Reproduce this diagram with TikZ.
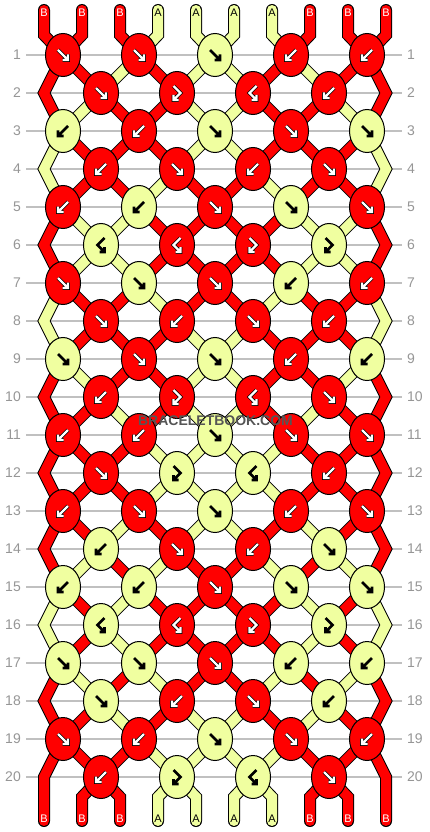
\documentclass[tikz,border=0pt]{standalone}
\usepackage{fontspec}
\setmainfont{Liberation Sans}
\usetikzlibrary{shapes.geometric}

\definecolor{colB}{RGB}{255,0,0}
\definecolor{colA}{RGB}{240,255,160}
\definecolor{labB}{RGB}{255,255,255}
\definecolor{labA}{RGB}{0,0,0}
\definecolor{rowgray}{RGB}{192,192,192}
\definecolor{labgray}{RGB}{150,150,150}
\definecolor{markgray}{RGB}{85,85,85}

\tikzset{
  knot/.style={ellipse, draw=black, line width=1pt, fill=col#1,
    minimum width=35pt, minimum height=43pt, inner sep=0pt},
  strout/.style={draw=black, line width=12pt, line cap=round, line join=miter},
  strin/.style={draw=col#1, line width=10pt, line cap=round, line join=miter},
  arrB/.style={draw=black, double=white, double distance=2.2pt, line width=0.7pt},
  arrA/.style={draw=black, line width=2.6pt},
  rowline/.style={draw=rowgray, line width=1.2pt, shorten <=5pt, shorten >=5pt},
  rowlab/.style={text=labgray, font=\fontsize{14}{14}\selectfont, inner sep=0pt},
  endlab/.style={text=lab#1, font=\fontsize{11}{11}\selectfont, inner sep=0pt},
  wmark/.style={font=\fontsize{14}{14}\selectfont\bfseries, text=markgray, inner sep=0pt},
  pics/fw/.style={code={\draw[arr#1] (-5,-5) -- (5,5) (5,-0.5) -- (5,5) -- (-0.5,5);}},
  pics/bw/.style={code={\draw[arr#1] (5,-5) -- (-5,5) (-5,-0.5) -- (-5,5) -- (0.5,5);}},
  pics/fb/.style={code={\draw[arr#1] (-3.5,-7) -- (3.5,0) -- (-3.5,7) (-3.5,2) -- (-3.5,7) -- (1.5,7);}},
  pics/bf/.style={code={\draw[arr#1] (3.5,-7) -- (-3.5,0) -- (3.5,7) (3.5,2) -- (3.5,7) -- (-1.5,7);}}
}

% one pass over all string pieces (outline or colour)
\newcommand\strandpass[1]{%
  \foreach \c [count=\p] in {B,B,B,A,A,A,A,B,B,B}{
    \draw[#1=\c] (t-\p) -- (u-\p) -- (n-1-\p);
  }
  \foreach \r/\s in {1/{B,B,A,B,A,A,B,A,B,B}, 2/{B,A,B,B,A,A,B,B,A,B},
      3/{A,B,B,B,A,A,B,B,B,A}, 4/{A,B,B,A,B,B,A,B,B,A},
      5/{B,A,A,B,B,B,B,A,A,B}, 6/{B,A,A,B,B,B,B,A,A,B},
      7/{A,B,B,A,B,B,A,B,B,A}, 8/{A,B,B,B,A,A,B,B,B,A},
      9/{B,A,B,B,A,A,B,B,A,B}, 10/{B,B,A,B,A,A,B,A,B,B},
      11/{B,B,B,A,A,A,A,B,B,B}, 12/{B,B,B,A,A,A,A,B,B,B},
      13/{B,B,A,B,A,A,B,A,B,B}, 14/{B,A,B,A,B,B,A,B,A,B},
      15/{A,B,A,B,B,B,B,A,B,A}, 16/{A,B,A,B,B,B,B,A,B,A},
      17/{B,A,B,A,B,B,A,B,A,B}, 18/{B,B,A,B,A,A,B,A,B,B},
      19/{B,B,B,A,A,A,A,B,B,B}}{
    \pgfmathtruncatemacro\rn{\r+1}
    \foreach \c [count=\p] in \s {
      \ifnum\p>1 \ifnum\p<10
        \draw[#1=\c] (n-\r-\p) -- (n-\rn-\p);
      \fi\fi
    }
  }
  % edge strings
  \foreach \r/\c in {2/B,4/A,6/B,8/A,10/B,12/B,14/B,16/A,18/B}{
    \pgfmathtruncatemacro\ra{\r-1}
    \pgfmathtruncatemacro\rb{\r+1}
    \draw[#1=\c] (n-\ra-1) -- (n-\r-1) -- (n-\rb-1);
    \draw[#1=\c] (n-\ra-10) -- (n-\r-10) -- (n-\rb-10);
  }
  \foreach \c [count=\p] in {B,B,B,A,A,A,A,B,B,B}{
    \ifnum\p=1 \draw[#1=\c] (n-19-\p) -- (n-20-\p) -- (v-\p) -- (w-\p);
    \else\ifnum\p=10 \draw[#1=\c] (n-19-\p) -- (n-20-\p) -- (v-\p) -- (w-\p);
    \else \draw[#1=\c] (n-20-\p) -- (v-\p) -- (w-\p);
    \fi\fi
  }
}

\begin{document}
\begin{tikzpicture}[x=1pt, y=-1pt]
  \fill[white] (0,0) rectangle (430,832);
  \useasboundingbox (0,0) rectangle (430,832);

  % row numbers and guide lines
  \foreach \r in {1,...,20}{
    \node[rowlab, anchor=east] (ll-\r) at (21, 17+38*\r) {\r};
    \node[rowlab, anchor=west] (rl-\r) at (407, 17+38*\r) {\r};
    \draw[rowline] (ll-\r.east) -- (rl-\r.west);
  }

  % knot and bend points
  \foreach \r in {1,...,20}{
    \foreach \p in {1,...,10}{
      \pgfmathsetmacro\nx{mod(\r,2)==1 ? 63+76*int((\p-1)/2) : (\p==1 ? 44 : (\p==10 ? 386 : 101+76*(int(\p/2)-1)))}
      \coordinate (n-\r-\p) at (\nx, 17+38*\r);
    }
  }
  \foreach \p in {1,...,10}{
    \coordinate (t-\p) at (6+38*\p, 10);
    \coordinate (u-\p) at (6+38*\p, 35);
    \coordinate (v-\p) at (6+38*\p, 797);
    \coordinate (w-\p) at (6+38*\p, 821);
  }

  \strandpass{strout}
  \strandpass{strin}

  % knots
  \foreach \r/\ks in {1/{B/fw,B/fw,A/fw,B/bw,B/bw}, 2/{B/fw,B/fb,B/bf,B/bw},
      3/{A/bw,B/bw,A/fw,B/fw,A/fw}, 4/{B/bw,B/fw,B/bw,B/fw},
      5/{B/bw,A/bw,B/fw,A/fw,B/fw}, 6/{A/bf,B/bf,B/fb,A/fb},
      7/{B/fw,A/fw,B/fw,A/bw,B/bw}, 8/{B/fw,B/bw,B/fw,B/bw},
      9/{A/fw,B/fw,A/fw,B/bw,A/bw}, 10/{B/bw,B/fb,B/bf,B/fw},
      11/{B/bw,B/bw,A/fw,B/fw,B/fw}, 12/{B/fw,A/fb,A/bf,B/bw},
      13/{B/bw,B/fw,A/fw,B/bw,B/fw}, 14/{A/bw,B/fw,B/bw,A/fw},
      15/{A/bw,A/bw,B/fw,A/fw,A/fw}, 16/{A/bf,B/bf,B/fb,A/fb},
      17/{A/fw,A/fw,B/fw,A/bw,A/bw}, 18/{A/fw,B/bw,B/fw,A/bw},
      19/{B/fw,B/bw,A/fw,B/fw,B/bw}, 20/{B/bw,A/fb,A/bf,B/fw}}{
    \foreach \c/\t [count=\i] in \ks {
      \pgfmathsetmacro\kx{mod(\r,2)==1 ? 63+76*(\i-1) : 101+76*(\i-1)}
      \node[knot=\c] (k-\r-\i) at (\kx, 17+38*\r) {};
      \edef\glyph{\noexpand\pic at (k-\r-\i) {\t=\c};}\glyph
    }
  }

  % string ends
  \foreach \c [count=\p] in {B,B,B,A,A,A,A,B,B,B}{
    \node[endlab=\c] (tl-\p) at (6+38*\p, 13) {\c};
    \node[endlab=\c] (bl-\p) at (6+38*\p, 819) {\c};
  }

  % watermark
  \node[wmark] (wm) at (215.5,421) {BRACELETBOOK.COM};
\end{tikzpicture}
\end{document}
